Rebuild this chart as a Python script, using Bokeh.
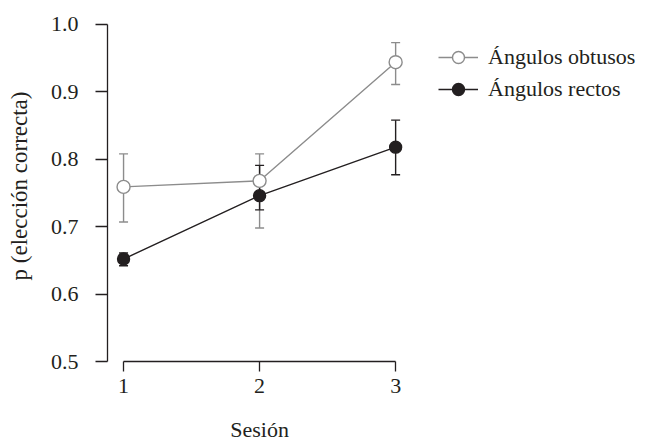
from bokeh.plotting import figure
from bokeh.models import (ColumnDataSource, Whisker, TeeHead, FixedTicker,
                          NumeralTickFormatter, Legend, LegendItem, LinearAxis, Range1d)
from bokeh.embed import file_html
from bokeh.resources import INLINE

# ---- data ----
sessions = [1, 2, 3]
obt_mean = [0.759, 0.768, 0.944]
obt_low = [0.707, 0.698, 0.911]
obt_high = [0.808, 0.808, 0.973]
rec_mean = [0.652, 0.746, 0.818]
rec_low = [0.642, 0.725, 0.777]
rec_high = [0.661, 0.791, 0.858]
y_ticks = [0.5, 0.6, 0.7, 0.8, 0.9, 1.0]
x_ticks = [1, 2, 3]
series_labels = ["Ángulos obtusos", "Ángulos rectos"]
x_title = "Sesión"
y_title = "p (elección correcta)"

FONT = "Liberation Serif"
FS = "22px"
GRAY = "#8c8c8c"
BLACK = "#231f20"

p = figure(width=650, height=444, output_backend="svg", toolbar_location=None,
           x_range=Range1d(0.882, 4.80), y_range=Range1d(0.5, 1.0207),
           min_border_left=107, min_border_right=10, min_border_top=10,
           min_border_bottom=82)
p.outline_line_color = None
p.xgrid.visible = False
p.ygrid.visible = False
p.background_fill_color = "white"
p.border_fill_color = "white"

src_o = ColumnDataSource(dict(x=sessions, y=obt_mean, lo=obt_low, hi=obt_high))
src_r = ColumnDataSource(dict(x=sessions, y=rec_mean, lo=rec_low, hi=rec_high))

for src, col in ((src_o, GRAY), (src_r, BLACK)):
    w = Whisker(base="x", upper="hi", lower="lo", source=src, line_color=col,
                line_width=1.4, level="underlay",
                upper_head=TeeHead(size=9, line_color=col, line_width=1.4),
                lower_head=TeeHead(size=9, line_color=col, line_width=1.4))
    p.add_layout(w)

lo_line = p.line("x", "y", source=src_o, line_color=GRAY, line_width=1.4)
lo_pts = p.scatter("x", "y", source=src_o, size=13, marker="circle",
                   fill_color="white", line_color=GRAY, line_width=1.4)
lr_line = p.line("x", "y", source=src_r, line_color=BLACK, line_width=1.4)
lr_pts = p.scatter("x", "y", source=src_r, size=12, marker="circle",
                   fill_color=BLACK, line_color=BLACK, line_width=1.4)

# axes
xa = p.xaxis[0]
xa.ticker = FixedTicker(ticks=x_ticks)
xa.bounds = (1, 3)
xa.major_tick_out = 10
xa.major_tick_in = 0
xa.minor_tick_out = 0
xa.minor_tick_in = 0
xa.major_label_standoff = 7
xa.axis_line_color = BLACK
xa.major_tick_line_color = BLACK
xa.axis_line_width = 1.3
xa.major_tick_line_width = 1.3
xa.major_label_text_font = FONT
xa.major_label_text_font_size = FS
xa.major_label_text_color = BLACK

ya = p.yaxis[0]
ya.ticker = FixedTicker(ticks=y_ticks)
ya.formatter = NumeralTickFormatter(format="0.0")
ya.bounds = (0.5, 1.0)
ya.major_tick_out = 12
ya.major_tick_in = 0
ya.minor_tick_out = 0
ya.minor_tick_in = 0
ya.major_label_standoff = 17
ya.axis_line_color = BLACK
ya.major_tick_line_color = BLACK
ya.axis_line_width = 1.3
ya.major_tick_line_width = 1.3
ya.major_label_text_font = FONT
ya.major_label_text_font_size = FS
ya.major_label_text_color = BLACK
ya.axis_label = y_title
ya.axis_label_text_font = FONT
ya.axis_label_text_font_size = "23px"
ya.axis_label_text_font_style = "normal"
ya.axis_label_text_color = BLACK
ya.axis_label_standoff = 16

# x-axis title, placed under session 2 like in the reference
title_axis = LinearAxis(ticker=FixedTicker(ticks=[2]),
                        major_label_overrides={2: x_title},
                        axis_line_color=None, major_tick_line_color=None,
                        major_tick_out=0, major_tick_in=0,
                        minor_tick_out=0, minor_tick_in=0,
                        major_label_standoff=21,
                        major_label_text_font=FONT,
                        major_label_text_font_size=FS,
                        major_label_text_color=BLACK)
p.add_layout(title_axis, "below")

legend = Legend(items=[
    LegendItem(label=series_labels[0], renderers=[lo_line, lo_pts]),
    LegendItem(label=series_labels[1], renderers=[lr_line, lr_pts]),
], location=(331, 257), padding=0, margin=0, border_line_color=None,
    background_fill_alpha=0, glyph_width=40, glyph_height=30, label_height=30,
    spacing=2, label_standoff=10, label_text_font=FONT, label_text_font_size=FS,
    label_text_color=BLACK)
p.add_layout(legend, "center")

open("out.html", "w").write(file_html(p, INLINE))
